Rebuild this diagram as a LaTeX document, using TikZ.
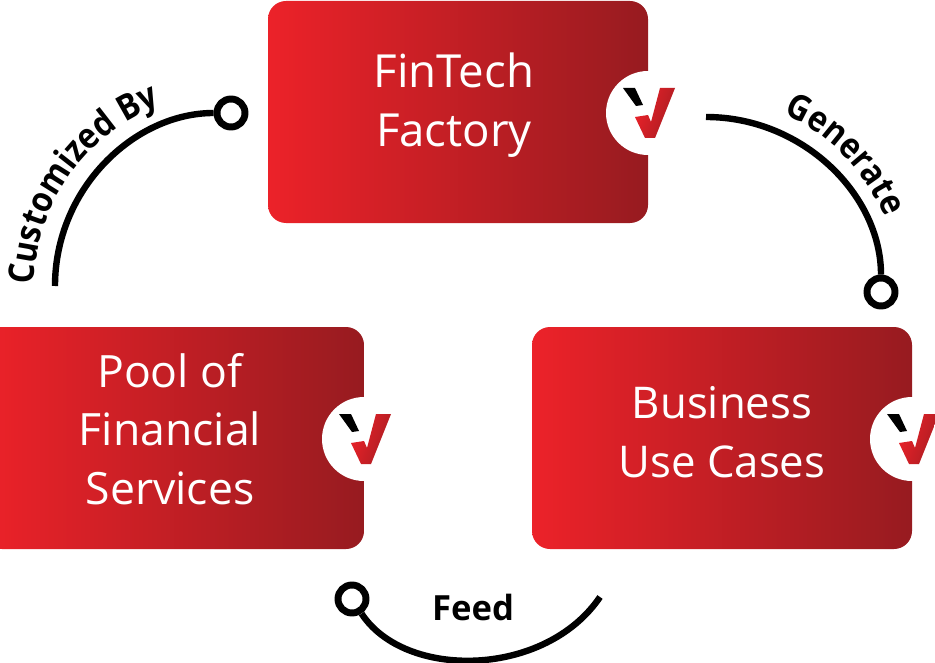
\documentclass[tikz,border=0pt]{standalone}
\usepackage{fontspec}
\setmainfont{Open Sans}
\newfontfamily\arcfont[FakeStretch=0.9]{Open Sans}
\usetikzlibrary{decorations.text,shapes.geometric}
\definecolor{redL}{HTML}{EC2229}
\definecolor{redR}{HTML}{971B20}
\tikzset{
  cardbox/.style={rectangle,rounded corners=13.5pt,minimum width=285pt,minimum height=166.5pt,inner sep=0pt,
    left color=redL,right color=redR,shading angle=90,draw=none},
  cardtext/.style={text=white,font=\fontsize{34.2}{44}\selectfont,align=center,inner sep=0pt},
  badge/.style={circle,fill=white,minimum size=63pt,inner sep=0pt,draw=none},
  ring/.style={circle,draw=black,line width=5.2pt,fill=white,minimum size=21pt,inner sep=0pt},
  curve/.style={draw=black,line width=4.8pt},
  curvelabel/.style={font=\fontsize{26}{30}\selectfont\bfseries},
  vlogo/.pic={
    \fill[black] (-25,-25) -- (-13,-25) -- (-5,-8) -- (-12,-7) -- cycle;
    \shade[left color=redL,right color=redR!80!redL,shading angle=70]
      (-13,4) -- (0,2) -- (3,9) -- (12,-25) -- (27,-25) -- (7,25) -- (-3,25) -- cycle;
  }
}
\begin{document}
\begin{tikzpicture}[x=0.75pt,y=-0.75pt]
\clip (0,0) rectangle (935,663);
\useasboundingbox (0,0) rectangle (935,663);
\node[cardbox] (factory) at (458,112) {};
\node[cardbox] (pool) at (174,438) {};
\node[cardbox] (cases) at (722,438) {};
\node[badge] (b1) at (648,113) {};
\node[badge] (b2) at (364,439) {};
\node[badge] (b3) at (912,439) {};
\pic at (b1) {vlogo};
\pic at (b2) {vlogo};
\pic at (b3) {vlogo};
\node[cardtext] (t1) at (454,105) {FinTech\\Factory};
\node[cardtext,font=\fontsize{33.4}{44}\selectfont] (t2) at (170,429) {Pool of\\Financial\\Services};
\node[cardtext,font=\fontsize{32.8}{44}\selectfont] (t3) at (722,432) {Business\\Use Cases};
% connectors
\coordinate (c1) at (55,286);
\node[ring] (r1) at (231,113) {};
\draw[curve] (c1) .. controls (55,189) and (134,113) .. (r1);
\coordinate (c2) at (706,117);
\node[ring] (r2) at (881,292) {};
\draw[curve] (c2) .. controls (803,117) and (881,195) .. (r2);
\coordinate (c3) at (600,597);
\node[ring] (r3) at (352,599) {};
\draw[curve] (c3) .. controls (545,678) and (405,680) .. (r3);
% labels along the arcs: the paths are the baselines of the texts
\coordinate (p1a) at (34,289);
\coordinate (p1b) at (231,92);
\path[decorate,decoration={text along path,text align={left indent=3pt},
   text={|\arcfont\fontsize{26.5}{30}\selectfont\bfseries|Customized By}}]
   (p1a) .. controls (34,180) and (122,92) .. (p1b);
\coordinate (p2a) at (706,98);
\coordinate (p2b) at (900,292);
\path[decorate,decoration={text along path,text align={left indent=60pt},
   text={|\arcfont\fontsize{26.5}{30}\selectfont\bfseries|Generate}}]
   (p2a) .. controls (813,98) and (900,185) .. (p2b);
\node[curvelabel,inner sep=0pt] (feed) at (473,607) {Feed};
\end{tikzpicture}
\end{document}
